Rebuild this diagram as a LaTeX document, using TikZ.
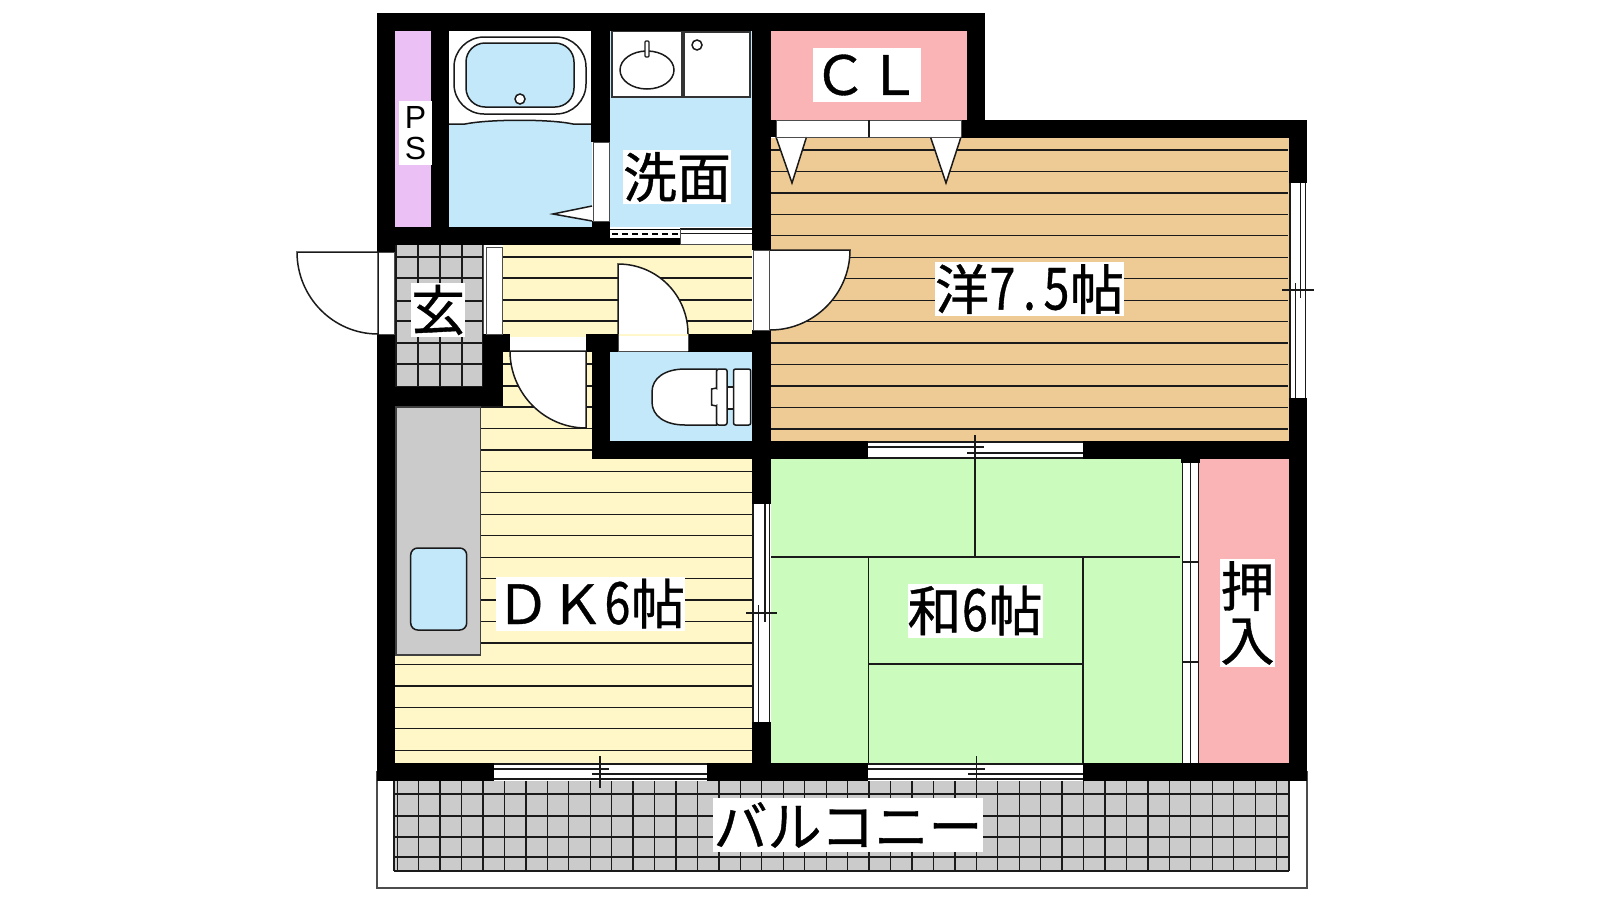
\documentclass[tikz,border=0pt]{standalone}
\usepackage{fontspec}
\setmainfont{Liberation Sans}
\newfontfamily\cjk[RawFeature={embolden=0.7}]{Noto Sans CJK JP}
\newcommand{\hw}[1]{\makebox[27pt]{\scalebox{0.86}[1.08]{#1}}}
\definecolor{cyel}{HTML}{FFF7C8}
\definecolor{corg}{HTML}{EECB94}
\definecolor{cblu}{HTML}{C2E8FA}
\definecolor{cpur}{HTML}{EBC0F5}
\definecolor{cpnk}{HTML}{FBB4B6}
\definecolor{cgrn}{HTML}{CCFBBE}
\definecolor{cgry}{HTML}{CBCBCB}
\definecolor{cln}{HTML}{1A1A1A}
\tikzset{
  ln/.style={line width=1.3pt,draw=cln},
  fine/.style={line width=1pt,draw=black!70},
  heavy/.style={line width=1.5pt,draw=cln},
  wall/.style={fill=black,draw=none},
  white box/.style={fill=white,draw=black!70,line width=1pt},
  lab/.style={fill=white,inner sep=0pt,font=\cjk\fontsize{54}{54}\selectfont,text=black,align=center,anchor=center},
}
\begin{document}
\begin{tikzpicture}[x=1pt,y=-1pt]
\useasboundingbox (0,0) rectangle (1600,900);
% balcony
\draw[line width=1.1pt,draw=black!70,fill=white] (377,772) rectangle (1307,888);
\fill[cgry] (394,781) rectangle (1289,871);
\foreach \k in {-1,...,40} {\pgfmathsetmacro{\xx}{418.6+21.45*\k}\draw[ln] (\xx,781) -- (\xx,871);}
\foreach \yy in {794,816,837,857,871} {\draw[ln] (394,\yy) -- (1289,\yy);}
\draw[ln] (394,781) -- (394,871) (1289,781) -- (1289,871);
% room fills
\fill[cpur] (395,31) rectangle (431,227);
\fill[cblu] (449,31) rectangle (592,227);
\fill[cblu] (610,31) rectangle (752,227);
\fill[cpnk] (771,31) rectangle (967,120);
\fill[corg] (771,138) rectangle (1289,441);
\fill[cyel] (503,245) rectangle (752,337);
\fill[cyel] (503,352) rectangle (592,406);
\fill[cyel] (395,406) rectangle (752,763);
\fill[cblu] (610,352) rectangle (752,441);
\fill[cgrn] (771,459) rectangle (1182,763);
\fill[cpnk] (1199,459) rectangle (1289,763);
\fill[cgry] (396,245) rectangle (483,387);
% stripes
\foreach \k in {0,...,13} {\pgfmathsetmacro{\yy}{150+21.45*\k}\draw[ln] (771,\yy) -- (1288,\yy);}
\foreach \yy in {257,278,300,321} {\draw[ln] (503,\yy) -- (752,\yy);}
\foreach \yy in {364,386} {\draw[ln] (503,\yy) -- (592,\yy);}
\foreach \k in {0,1} {\pgfmathsetmacro{\yy}{407+21.45*\k}\draw[ln] (481,\yy) -- (592,\yy);}
\foreach \k in {2,...,11} {\pgfmathsetmacro{\yy}{407+21.45*\k}\draw[ln] (481,\yy) -- (752,\yy);}
\foreach \k in {12,...,16} {\pgfmathsetmacro{\yy}{407+21.45*\k}\draw[ln] (395,\yy) -- (752,\yy);}
% genkan tiles
\foreach \yy in {257,278,301,321,343,364,387} {\draw[ln] (396,\yy) -- (483,\yy);}
\foreach \xx in {396,418,440,462,483} {\draw[ln] (\xx,245) -- (\xx,387);}
% tatami
\draw[ln] (771,557) -- (1180,557);
\draw[ln] (868.5,557) -- (868.5,763);
\draw[ln] (1083,557) -- (1083,763);
\draw[ln] (868.5,664) -- (1083,664);
% counter and sink
\draw[line width=1.1pt,draw=black!75,fill=cgry] (396,407) rectangle (480.7,655);
\draw[heavy,fill=cblu,rounded corners=7pt] (410.7,548) rectangle (466.7,630);
% bath
\fill[white] (449,31) -- (592,31) -- (592,124) -- (573,124) .. controls (550,119) and (490,119) .. (465,124) -- (449,124) -- cycle;
\draw[heavy] (449,124) -- (465,124) .. controls (490,119) and (550,119) .. (573,124) -- (592,124);
\draw[heavy,fill=white,rounded corners=30pt] (454,37) rectangle (586,114);
\draw[heavy,fill=cblu,rounded corners=19pt] (466,43) rectangle (574,107);
\draw[heavy,fill=white] (520,99) circle (5);
% wash
\draw[white box,draw=black!80,line width=1.1pt] (612,31) rectangle (682,97);
\draw[white box,draw=black!80,line width=1.1pt] (684,32) rectangle (750,97);
\draw[heavy,fill=white] (697,45) circle (5);
\draw[heavy,fill=white] (647,70) ellipse (27 and 19);
\draw[ln,fill=white,rounded corners=1pt] (645,41) rectangle (649,57);
% toilet
\draw[heavy,fill=white] (716.7,369) -- (685,369) .. controls (665,369) and (652,378) .. (652,392) -- (652,402) .. controls (652,416) and (665,425) .. (685,425) -- (716.7,425) -- cycle;
\draw[heavy,fill=white] (727,387) rectangle (733.5,409);
\draw[heavy,fill=white,rounded corners=2pt] (716.7,369) -- (727,369) -- (727,425) -- (716.7,425) -- cycle;
\draw[heavy,fill=white,rounded corners=2pt] (733.5,369) rectangle (750.7,425);
\draw[heavy,fill=white] (716.7,388) -- (711.5,389) -- (711.5,405) -- (716.7,406);
\fill[white] (715.5,390) rectangle (718,404);
% walls
\fill[wall] (377,13) rectangle (985,31);
\fill[wall] (377,13) rectangle (395,252);
\fill[wall] (377,334) rectangle (395,781);
\fill[wall] (431,13) rectangle (449,245);
\fill[wall] (377,227) rectangle (610,245);
\fill[wall] (591,13) rectangle (610,142);
\fill[wall] (592,221) rectangle (610,245);
\fill[wall] (610,229) rectangle (680,245);
\fill[wall] (752,13) rectangle (771,250);
\fill[wall] (752,330) rectangle (771,504);
\fill[wall] (752,722) rectangle (771,781);
\fill[wall] (967,13) rectangle (985,138);
\fill[wall] (961,120) rectangle (1307,138);
\fill[wall] (771,120) rectangle (776,137);
\fill[wall] (1289,120) rectangle (1307,183);
\fill[wall] (1289,398) rectangle (1307,781);
\fill[wall] (752,441) rectangle (868,459);
\fill[wall] (1083,441) rectangle (1289,459);
\fill[wall] (1181,459) rectangle (1200,463);
\fill[wall] (377,763) rectangle (494,781);
\fill[wall] (707,763) rectangle (868,781);
\fill[wall] (1083,763) rectangle (1307,781);
\fill[wall] (483,334) rectangle (503,406);
\fill[wall] (503,334) rectangle (510,352);
\fill[wall] (377,387) rectangle (503,406);
\fill[wall] (586,334) rectangle (618,352);
\fill[wall] (688,334) rectangle (752,352);
\fill[wall] (592,352) rectangle (610,459);
\fill[wall] (592,441) rectangle (752,459);
% bath door
\draw[fine,fill=white] (593,142) rectangle (609,221);
\draw[heavy,fill=white] (592,206) -- (553,214) -- (592,221);
% wash bottom strip
\fill[white] (610,230) rectangle (680,238);
\draw[line width=1.3pt,dash pattern=on 6pt off 4pt,draw=black] (612,234) -- (678,234);
\fill[white] (680,229) rectangle (752,244);
\draw[ln] (680,229) -- (752,229) (680,233.5) -- (752,233.5);
\draw[fine] (680,229) -- (680,244) -- (752,244);
% CL doors
\fill[white] (776,120) rectangle (961,137);
\draw[heavy,fill=white,line join=miter] (776,137) -- (792,183) -- (806.5,137);
\draw[heavy,fill=white,line join=miter] (930.5,137) -- (946,183) -- (961,137);
\draw[fine] (776,120.5) -- (961,120.5) (776,137) -- (961,137) (776,120) -- (776,137) (961,120) -- (961,137);
\draw[ln] (869,120) -- (869,137);
% closet sliding door
\fill[white] (1182,463) rectangle (1199,763);
\draw[ln] (1182.5,463) -- (1182.5,763) (1190.5,463) -- (1190.5,763) (1198.5,463) -- (1198.5,763);
\draw[ln] (1182.5,562) -- (1198.5,562) (1182.5,662) -- (1198.5,662);
% genkan doors
\fill[white] (378,252) rectangle (394,334);
\draw[fine] (378,252) rectangle (394,334);
\draw[heavy,fill=white] (378,252) -- (297,252) .. controls (297,297) and (333,334) .. (378,334) -- cycle;
\fill[white] (484,245) rectangle (503,334);
\draw[fine] (486,247) rectangle (502,334) (483.5,245) -- (483.5,334);
% door to western room
\fill[white] (753,250) rectangle (770,330);
\draw[fine] (753,250) rectangle (769,330);
\draw[heavy,fill=white] (770,250) -- (850,250) .. controls (850,294) and (814,330) .. (770,330);
% door to DK
\fill[white] (510,337) rectangle (586,351);
\draw[fine] (510,351) -- (586,351);
\draw[heavy,fill=white] (586,351) -- (510,351) .. controls (510,393) and (544,428) .. (586,428) -- cycle;
% toilet door
\fill[white] (618,336) rectangle (688,351);
\draw[fine] (618,351) -- (688,351);
\draw[heavy,fill=white] (618,334) -- (618,264) .. controls (657,264) and (688,295) .. (688,334);
\draw[fine] (618,334) -- (618,351) (688,334) -- (688,351);
% windows: west wall of tatami room
\fill[white] (753,504) rectangle (770,722);
\draw[ln] (753,504) -- (753,722) (769.5,504) -- (769.5,722);
\draw[ln] (765,504) -- (765,622);
\draw[ln] (758.5,605) -- (758.5,722);
\draw[ln] (746,613) -- (777,613);
% east window
\fill[white] (1290,183) rectangle (1306,398);
\draw[ln] (1290,183) -- (1290,398) (1305.7,183) -- (1305.7,398);
\draw[ln] (1300.7,183) -- (1300.7,298);
\draw[ln] (1295.3,283) -- (1295.3,398);
\draw[ln] (1282,290) -- (1314,290);
% window between rooms
\fill[white] (868,441) rectangle (1083,459);
\draw[ln] (868,442) -- (1083,442) (868,458) -- (1083,458);
\draw[ln] (868,447) -- (984,447);
\draw[ln] (967,453) -- (1083,453);
\draw[ln] (975,435) -- (975,557);
% balcony windows
\fill[white] (494,763) rectangle (707,781);
\draw[ln] (494,764) -- (707,764) (494,779) -- (707,779);
\draw[ln] (494,769) -- (608.6,769);
\draw[ln] (592,774) -- (707,774);
\draw[ln] (600,756) -- (600,788);
\fill[white] (868,763) rectangle (1083,781);
\draw[ln] (868,764) -- (1083,764) (868,779) -- (1083,779);
\draw[ln] (868,769) -- (985,769);
\draw[ln] (968,774) -- (1083,774);
\draw[ln] (976.7,756) -- (976.7,788);
% labels
\node[lab,minimum width=33pt,minimum height=64pt,font=\fontsize{32}{31}\selectfont] (ps) at (415.5,133) {P\\S};
\node[lab,minimum width=108pt,minimum height=54pt] (cl) at (867,75) {ＣＬ};
\node[lab,minimum width=108pt,minimum height=54pt] (wash) at (677,177) {洗面};
\node[lab,minimum width=54pt,minimum height=54pt] (gen) at (438,310) {玄};
\node[lab,minimum width=189pt,minimum height=54pt] (west) at (1029.5,289) {洋\hw{7}\hw{.}\hw{5}帖};
\node[lab,minimum width=189pt,minimum height=54pt] (dk) at (590.5,603.5) {ＤＫ\hw{6}帖};
\node[lab,minimum width=135pt,minimum height=54pt] (wa) at (975,610.5) {和\hw{6}帖};
\node[lab,minimum width=55pt,minimum height=108pt] (osh) at (1247.5,613) {押\\入};
\node[lab,minimum width=270pt,minimum height=54pt] (bal) at (848,825) {バルコニー};
\end{tikzpicture}
\end{document}
